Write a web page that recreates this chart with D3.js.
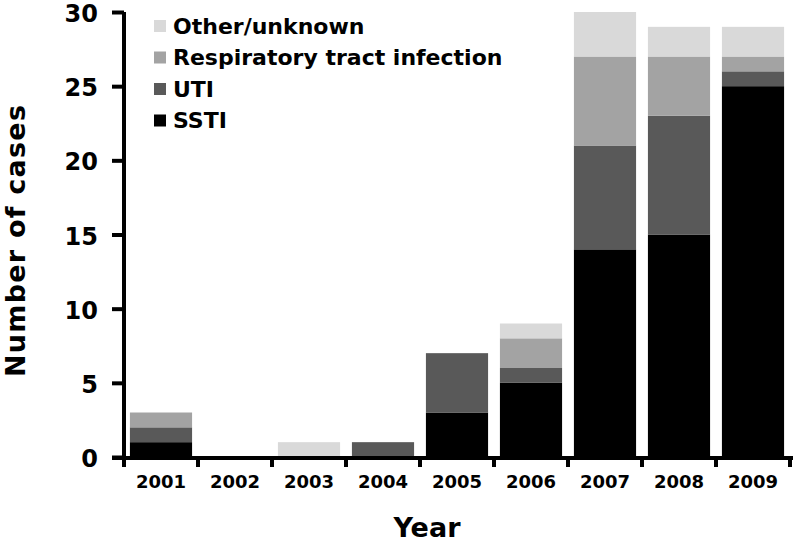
<!DOCTYPE html>
<html>
<head>
<meta charset="utf-8">
<script src="https://cdn.jsdelivr.net/npm/d3@7"></script>
<style>
  body { margin: 0; background: #fff; }
  svg { font-family: "DejaVu Sans", Verdana, sans-serif; font-weight: bold; }
</style>
</head>
<body>
<svg width="797" height="543"></svg>
<script>
// data
const years = ["2001", "2002", "2003", "2004", "2005", "2006", "2007", "2008", "2009"];
const ssti  = [1, 0, 0, 0, 3, 5, 14, 15, 25];
const uti   = [1, 0, 0, 1, 4, 1, 7, 8, 1];
const resp  = [1, 0, 0, 0, 0, 2, 6, 4, 1];
const other = [0, 0, 1, 0, 0, 1, 3, 2, 2];
const seriesNames = ["SSTI", "UTI", "Respiratory tract infection", "Other/unknown"];
const seriesColors = ["#000000", "#595959", "#a3a3a3", "#d9d9d9"];
const yTicks = [0, 5, 10, 15, 20, 25, 30];

const keys = ["ssti", "uti", "resp", "other"];
const rows = years.map((y, i) => ({ year: y, ssti: ssti[i], uti: uti[i], resp: resp[i], other: other[i] }));

const svg = d3.select("svg");
const x0 = 124, x1 = 790, yTop = 12, yBottom = 457;

const x = d3.scaleBand().domain(years).range([x0, x1]).paddingInner(0.16).paddingOuter(0.08);
const y = d3.scaleLinear().domain([0, 30]).range([yBottom, yTop]);
const color = d3.scaleOrdinal().domain(keys).range(seriesColors);

const stacked = d3.stack().keys(keys)(rows);

// bars
svg.append("g").selectAll("g")
  .data(stacked)
  .join("g")
  .attr("fill", d => color(d.key))
  .selectAll("rect")
  .data(d => d)
  .join("rect")
  .attr("x", d => x(d.data.year))
  .attr("width", x.bandwidth())
  .attr("y", d => y(d[1]))
  .attr("height", d => y(d[0]) - y(d[1]));

// y axis
const yAxis = svg.append("g")
  .attr("transform", `translate(${x0},0)`)
  .call(d3.axisLeft(y).tickValues(yTicks).tickSize(12).tickPadding(14).tickSizeOuter(0));
yAxis.select(".domain").attr("stroke-width", 4).attr("d", `M0,${yTop}V${yBottom + 3}`);
yAxis.selectAll(".tick line").attr("stroke-width", 4);
yAxis.selectAll(".tick text").attr("font-size", 24).attr("font-weight", "bold").attr("fill", "#000")
  .attr("font-family", "DejaVu Sans").attr("dy", "0.4em");

// x axis
const boundaries = d3.range(years.length + 1).map(i => x0 + i * (x1 - x0) / years.length);
const xg = svg.append("g");
xg.append("line")
  .attr("x1", x0 - 12).attr("x2", x1 + 3)
  .attr("y1", yBottom + 1).attr("y2", yBottom + 1)
  .attr("stroke", "#000").attr("stroke-width", 4);
xg.selectAll("line.tk")
  .data(boundaries)
  .join("line")
  .attr("class", "tk")
  .attr("x1", d => d).attr("x2", d => d)
  .attr("y1", yBottom).attr("y2", yBottom + 10)
  .attr("stroke", "#000").attr("stroke-width", 4);
xg.selectAll("text")
  .data(years)
  .join("text")
  .attr("x", d => x(d) + x.bandwidth() / 2)
  .attr("y", 488)
  .attr("text-anchor", "middle")
  .attr("font-size", 18)
  .text(d => d);

// axis titles
svg.append("text")
  .attr("x", 427).attr("y", 537)
  .attr("text-anchor", "middle")
  .attr("font-size", 27)
  .text("Year");
svg.append("text")
  .attr("transform", "translate(25,241) rotate(-90)")
  .attr("text-anchor", "middle")
  .attr("font-size", 27)
  .attr("textLength", 272)
  .attr("lengthAdjust", "spacing")
  .text("Number of cases");

// legend (top to bottom: reverse of stack order)
const legend = svg.append("g");
const legItems = keys.map((k, i) => ({ key: k, name: seriesNames[i] })).reverse();
const lg = legend.selectAll("g")
  .data(legItems)
  .join("g")
  .attr("transform", (d, i) => `translate(154,${26 + i * 31.5})`);
lg.append("rect")
  .attr("x", 0).attr("y", -6).attr("width", 12).attr("height", 12)
  .attr("fill", d => color(d.key));
lg.append("text")
  .attr("x", 19).attr("y", 0).attr("dy", "0.35em")
  .attr("font-size", 22)
  .text(d => d.name);
</script>
</body>
</html>
